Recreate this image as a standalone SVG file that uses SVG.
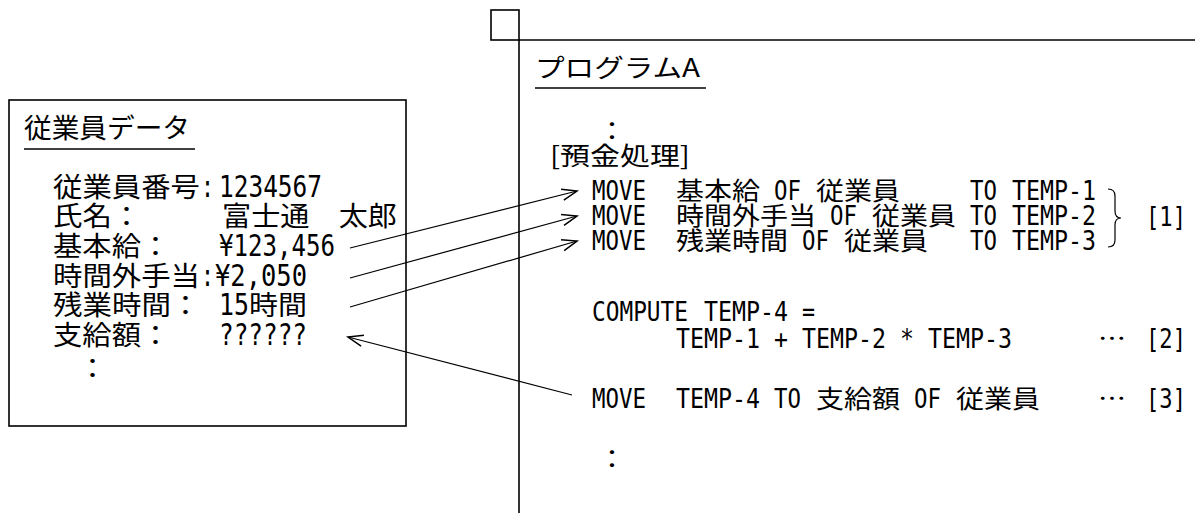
<svg xmlns="http://www.w3.org/2000/svg" width="1195" height="513" viewBox="0 0 1195 513">
<style>
text{fill:#000;}
.lj{font-family:"Noto Sans CJK JP","Noto Sans",sans-serif;font-size:27px;}
.lm{font-family:"DejaVu Sans Mono","Liberation Mono",monospace;font-size:30px;}
.rj{font-family:"Noto Sans CJK JP","Noto Sans",sans-serif;font-size:25px;}
.rm{font-family:"DejaVu Sans Mono","Liberation Mono",monospace;font-size:27px;}
.frame{fill:none;stroke:#000;stroke-width:1.6;}
.ul{stroke:#000;stroke-width:1.6;}
.conn{stroke:#000;stroke-width:1.2;fill:none;}
</style>
<defs>
<marker id="ah" markerUnits="userSpaceOnUse" markerWidth="20" markerHeight="20" viewBox="-14 -7 16 14" refX="0" refY="0" orient="auto">
<path d="M-12,-4.5 L0,0 L-12,4.5" fill="none" stroke="#000" stroke-width="1.2"/>
</marker>
</defs>
<rect width="1195" height="513" fill="#fff"/>

<g id="employee-data">
<rect class="frame" x="9" y="100" width="397" height="326"/>
<text class="lj" x="24" y="138" textLength="166" lengthAdjust="spacingAndGlyphs">従業員データ</text>
<line class="ul" x1="24" y1="149" x2="195" y2="149"/>
<text class="lj" x="53" y="197" textLength="147" lengthAdjust="spacingAndGlyphs">従業員番号</text>
<text class="lm" x="201" y="197" textLength="13" lengthAdjust="spacingAndGlyphs">:</text>
<text class="lm" x="219" y="197" textLength="103" lengthAdjust="spacingAndGlyphs">1234567</text>
<text class="lj" x="53" y="226" textLength="59" lengthAdjust="spacingAndGlyphs">氏名</text>
<text class="lj" x="112" y="226" textLength="29" lengthAdjust="spacingAndGlyphs">：</text>
<text class="lj" x="222" y="226" textLength="175" lengthAdjust="spacingAndGlyphs">富士通　太郎</text>
<text class="lj" x="53" y="256" textLength="88" lengthAdjust="spacingAndGlyphs">基本給</text>
<text class="lj" x="141" y="256" textLength="29" lengthAdjust="spacingAndGlyphs">：</text>
<text class="lm" x="219" y="256" textLength="116" lengthAdjust="spacingAndGlyphs">¥123,456</text>
<text class="lj" x="53" y="286" textLength="147" lengthAdjust="spacingAndGlyphs">時間外手当</text>
<text class="lm" x="201" y="286" textLength="13" lengthAdjust="spacingAndGlyphs">:</text>
<text class="lm" x="215" y="286" textLength="92" lengthAdjust="spacingAndGlyphs">¥2,050</text>
<text class="lj" x="53" y="315" textLength="118" lengthAdjust="spacingAndGlyphs">残業時間</text>
<text class="lj" x="171" y="315" textLength="29" lengthAdjust="spacingAndGlyphs">：</text>
<text class="lm" x="219" y="315" textLength="30" lengthAdjust="spacingAndGlyphs">15</text>
<text class="lj" x="249" y="315" textLength="58" lengthAdjust="spacingAndGlyphs">時間</text>
<text class="lj" x="53" y="345" textLength="88" lengthAdjust="spacingAndGlyphs">支給額</text>
<text class="lj" x="141" y="345" textLength="29" lengthAdjust="spacingAndGlyphs">：</text>
<text class="lm" x="219" y="345" textLength="88" lengthAdjust="spacingAndGlyphs">??????</text>
<text class="lj" x="78" y="378" textLength="29" lengthAdjust="spacingAndGlyphs">：</text>
</g>

<g id="program-a">
<rect class="frame" x="491" y="10" width="28" height="30"/>
<line class="ul" x1="519" y1="40" x2="1195" y2="40"/>
<line class="ul" x1="519" y1="40" x2="519" y2="513"/>
<text class="rj" x="535" y="77" textLength="165" lengthAdjust="spacingAndGlyphs">プログラムA</text>
<line class="ul" x1="535" y1="88" x2="706" y2="88"/>
<text class="rj" x="598" y="140" textLength="28" lengthAdjust="spacingAndGlyphs">：</text>
<text class="rj" x="550" y="165" textLength="140" lengthAdjust="spacingAndGlyphs">[預金処理]</text>

<text class="rm" x="592" y="200" textLength="54" lengthAdjust="spacingAndGlyphs">MOVE</text>
<text class="rj" x="676" y="200" textLength="84" lengthAdjust="spacingAndGlyphs">基本給</text>
<text class="rm" x="774" y="200" textLength="27" lengthAdjust="spacingAndGlyphs">OF</text>
<text class="rj" x="816" y="200" textLength="84" lengthAdjust="spacingAndGlyphs">従業員</text>
<text class="rm" x="970" y="200" textLength="27" lengthAdjust="spacingAndGlyphs">TO</text>
<text class="rm" x="1012" y="200" textLength="84" lengthAdjust="spacingAndGlyphs">TEMP-1</text>

<text class="rm" x="592" y="225" textLength="54" lengthAdjust="spacingAndGlyphs">MOVE</text>
<text class="rj" x="676" y="225" textLength="140" lengthAdjust="spacingAndGlyphs">時間外手当</text>
<text class="rm" x="830" y="225" textLength="27" lengthAdjust="spacingAndGlyphs">OF</text>
<text class="rj" x="872" y="225" textLength="84" lengthAdjust="spacingAndGlyphs">従業員</text>
<text class="rm" x="970" y="225" textLength="27" lengthAdjust="spacingAndGlyphs">TO</text>
<text class="rm" x="1012" y="225" textLength="84" lengthAdjust="spacingAndGlyphs">TEMP-2</text>

<text class="rm" x="592" y="250" textLength="54" lengthAdjust="spacingAndGlyphs">MOVE</text>
<text class="rj" x="676" y="250" textLength="112" lengthAdjust="spacingAndGlyphs">残業時間</text>
<text class="rm" x="802" y="250" textLength="27" lengthAdjust="spacingAndGlyphs">OF</text>
<text class="rj" x="844" y="250" textLength="84" lengthAdjust="spacingAndGlyphs">従業員</text>
<text class="rm" x="970" y="250" textLength="27" lengthAdjust="spacingAndGlyphs">TO</text>
<text class="rm" x="1012" y="250" textLength="84" lengthAdjust="spacingAndGlyphs">TEMP-3</text>

<path class="conn" d="M1108,189 Q1115,189 1115,196 L1115,211 Q1115,218 1121,218 Q1115,218 1115,225 L1115,240 Q1115,247 1108,247"/>
<text class="rm" x="1146" y="226" textLength="40" lengthAdjust="spacingAndGlyphs">[1]</text>

<text class="rm" x="592" y="321" textLength="96" lengthAdjust="spacingAndGlyphs">COMPUTE</text>
<text class="rm" x="704" y="321" textLength="84" lengthAdjust="spacingAndGlyphs">TEMP-4</text>
<text class="rm" x="802" y="321" textLength="13" lengthAdjust="spacingAndGlyphs">=</text>

<text class="rm" x="676" y="348" textLength="336" lengthAdjust="spacingAndGlyphs">TEMP-1 + TEMP-2 * TEMP-3</text>
<text class="rj" x="1098" y="348" textLength="28" lengthAdjust="spacingAndGlyphs">…</text>
<text class="rm" x="1146" y="348" textLength="40" lengthAdjust="spacingAndGlyphs">[2]</text>

<text class="rm" x="592" y="408" textLength="54" lengthAdjust="spacingAndGlyphs">MOVE</text>
<text class="rm" x="676" y="408" textLength="84" lengthAdjust="spacingAndGlyphs">TEMP-4</text>
<text class="rm" x="774" y="408" textLength="27" lengthAdjust="spacingAndGlyphs">TO</text>
<text class="rj" x="816" y="408" textLength="84" lengthAdjust="spacingAndGlyphs">支給額</text>
<text class="rm" x="914" y="408" textLength="27" lengthAdjust="spacingAndGlyphs">OF</text>
<text class="rj" x="956" y="408" textLength="84" lengthAdjust="spacingAndGlyphs">従業員</text>
<text class="rj" x="1098" y="408" textLength="28" lengthAdjust="spacingAndGlyphs">…</text>
<text class="rm" x="1146" y="408" textLength="40" lengthAdjust="spacingAndGlyphs">[3]</text>

<text class="rj" x="598" y="468" textLength="28" lengthAdjust="spacingAndGlyphs">：</text>
</g>

<g id="connectors">
<line class="conn" x1="350" y1="248" x2="577" y2="191" marker-end="url(#ah)"/>
<line class="conn" x1="350" y1="278" x2="577" y2="216" marker-end="url(#ah)"/>
<line class="conn" x1="350" y1="307" x2="577" y2="241" marker-end="url(#ah)"/>
<line class="conn" x1="572" y1="395" x2="348" y2="337" marker-end="url(#ah)"/>
</g>
</svg>
